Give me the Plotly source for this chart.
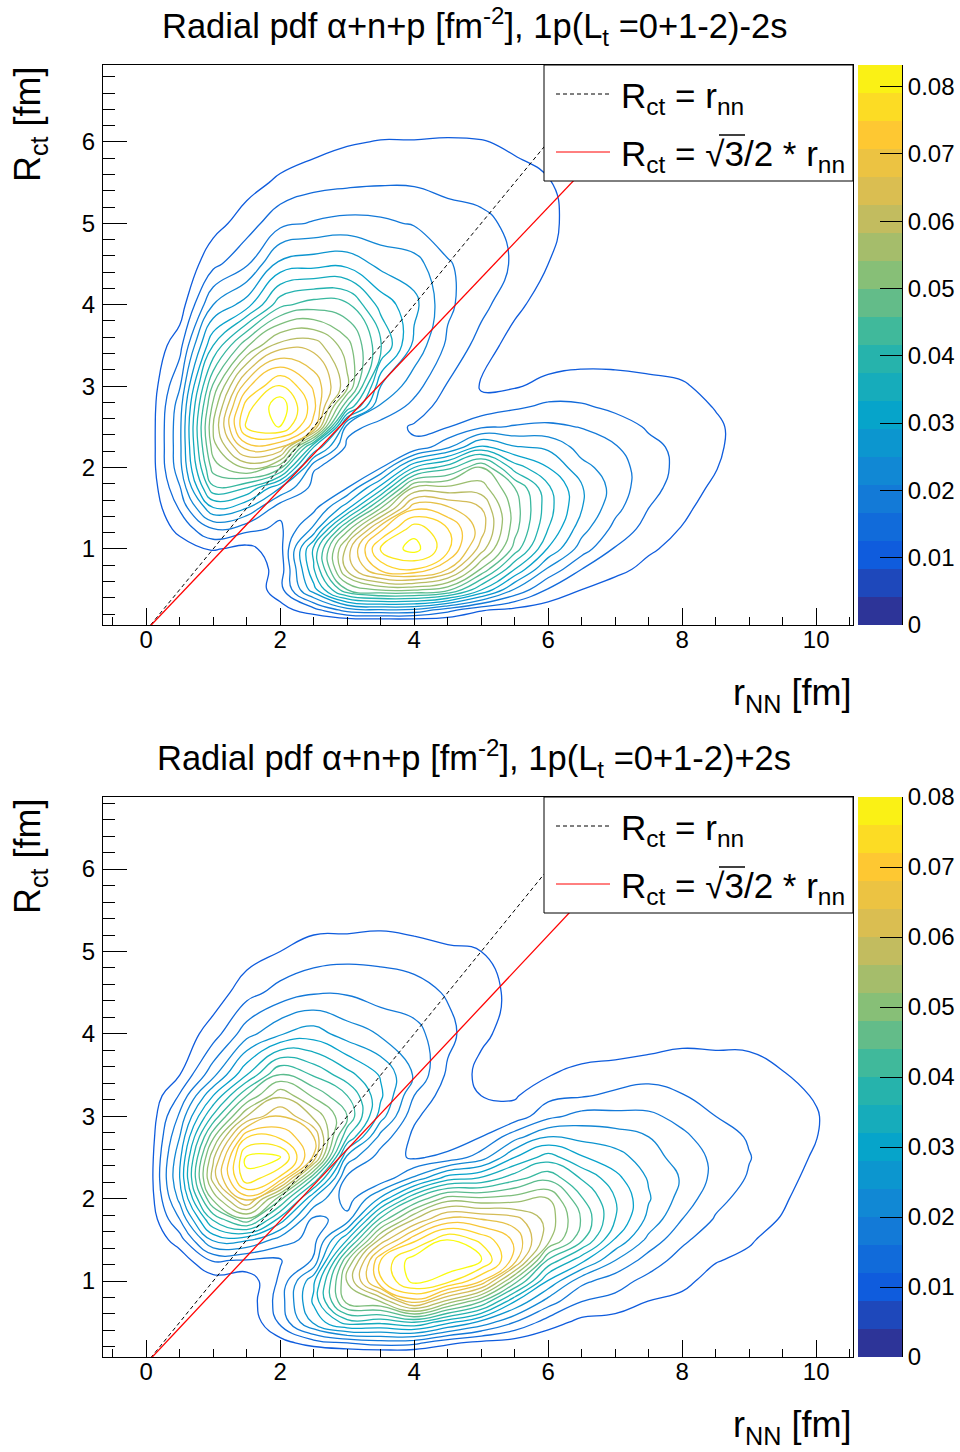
import numpy as np
import plotly.graph_objects as go

# ---- data -----------------------------------------------------------------
# pdf values are written in contour steps (one step = one colour band)
step_top = 0.00416
step_bot = 0.004
x_grid = [0, .5, 1, 1.5, 2, 2.5, 3, 3.5, 4, 4.5, 5, 5.5, 6, 6.5, 7, 7.5, 8, 8.5, 9, 9.5, 10, 10.5]

y_top = [0, .125, .25, .5, .75, 1, 1.25, 1.5, 1.75, 2, 2.25, 2.5, 2.75, 3, 3.5, 4, 4.5, 5, 5.5, 6, 6.5, 7]
rows_top = [
    [],
    [0, 0, 0, 0, .1, .2, .5, .6, .6, .5, .3, .2, .1],
    [0, 0, 0, 0, .6, 1.6, 3.5, 3.9, 3.8, 2.4, 1.1, .7, .4, .1],
    [0, 0, .05, .1, 1.6, 5.6, 10, 11.2, 11.2, 10.4, 7.1, 3.9, 1.9, 1, .5, .15, .05],
    [0, 0, .2, .25, 1.4, 6.9, 13.3, 16.3, 17, 15, 10.9, 7, 3.8, 2, 1.3, .7, .3, .1],
    [0, .5, 1.1, .7, 1.6, 7.2, 13.5, 18.2, 19.4, 17.3, 13.5, 9.6, 5.9, 3.5, 1.9, 1.15, .65, .2, .05],
    [0, 1.3, 3, 2.3, 1.8, 4.2, 10.5, 15.7, 18.6, 17, 14.5, 10.4, 7, 4.4, 2.7, 1.6, .95, .35, .1],
    [0, 2.1, 5.9, 5, 2.3, 2.7, 5.7, 11, 15.8, 15.2, 14, 10.5, 7.4, 5.05, 3.3, 2, 1.25, .5, .2],
    [0, 2.9, 8.8, 8, 5, 2.6, 3, 6.4, 12.2, 12.3, 12.5, 10, 7.2, 5.1, 3.6, 2.3, 1.6, .75, .3],
    [0, 3.6, 10.5, 12.2, 10.3, 3.1, 2.5, 2.9, 7, 8.6, 11, 7.5, 6, 4.3, 3.5, 2.4, 1.75, 1.05, .5, .1],
    [0, 3.7, 11.5, 15.5, 15, 7, 2.7, 2.2, 2.2, 3.8, 6.3, 5.1, 4.8, 3.6, 3.1, 2.2, 1.8, 1.15, .55, .1],
    [0, 3.7, 12, 18.2, 19.1, 15.5, 3.4, 2.6, 1.85, 1.95, 2.8, 3.1, 3.2, 2.95, 2.4, 1.9, 1.65, 1.15, .6, .15],
    [0, 3.5, 11.3, 17.6, 19.7, 16.4, 9, 3.8, 2.7, 1.4, 1.3, 1.8, 2.2, 2.1, 1.8, 1.6, 1.35, .95, .45, .1],
    [0, 2.9, 10.2, 15.7, 18.2, 15.8, 12.3, 5, 3.4, 1.9, .9, .9, 1.3, 1.5, 1.4, 1.25, 1.1, .7, .3, .05],
    [0, 1.6, 7, 10.8, 13.5, 13.6, 11.4, 8.2, 4.7, 2.8, 1.6, .5, .25, .3, .4, .4, .4, .2, .05],
    [0, .4, 4, 5.5, 8.7, 9.5, 9.2, 6.6, 5.3, 3.2, 2.3, 1.3, .4, .1, .05],
    [0, .05, 1.7, 2.85, 5.3, 5.6, 5.7, 4.7, 4.4, 3.1, 2.45, 1.9, 1, .2],
    [0, 0, .6, 1.5, 2.7, 3.1, 3.3, 3.2, 2.9, 2.4, 2.25, 1.75, 1.25, .5],
    [0, 0, .1, .6, 1.2, 1.65, 1.8, 1.9, 1.9, 1.75, 1.6, 1.3, 1.1, .2],
    [0, 0, 0, .05, .3, .55, .9, 1.05, 1.05, 1.1, 1.05, .85, .4, .05],
    [0, 0, 0, 0, 0, 0, .1, .1, .1, .15, .15, .1, .05],
    [],
]

y_bot = [0, .125, .25, .5, .75, 1, 1.25, 1.5, 1.75, 2, 2.25, 2.5, 2.75, 3, 3.25, 3.5, 4, 4.5, 5, 5.5, 6, 6.5, 7]
# one list per x_grid column
cols_bot = [
    [],
    [0, 0, 0, 0, 0, .1, .4, 1.5, 3, 4.3, 5, 4.7, 4, 3.2, 2.1, 1, .3],
    [0, 0, 0, 0, 0, .5, 2.1, 5.2, 8.2, 11.3, 13.5, 12.8, 10.8, 8.2, 6, 3.7, 1.5, .4],
    [0, 0, 0, .05, .3, .3, 1.9, 5.2, 10.8, 15.5, 18.8, 19.2, 16.9, 13, 10, 7, 3.6, 1.6, .5, .02],
    [0, .1, .6, 2.2, 2.5, 2.2, 1.9, 3.5, 6.6, 10.3, 16.8, 19.2, 16.8, 15, 12.8, 10.2, 4.9, 2.4, 1, .2],
    [0, .1, 1.5, 5.2, 6.2, 5.8, 3.1, 2.6, 2.7, 4.9, 9, 14.8, 15, 12.8, 10.8, 8.9, 5.5, 2.9, 1.4, .4],
    [0, .3, 2, 7.5, 11.4, 12.1, 10.9, 7, 3.4, 2.4, 2.7, 4.6, 8.1, 10, 9, 7.4, 4.5, 2.9, 1.6, .2],
    [0, .3, 2.5, 7.3, 12, 16.8, 17, 13.3, 9.3, 5.2, 2.2, 2.5, 3.6, 5.5, 6.2, 5.9, 3.9, 2.5, 1.7, .3],
    [0, .3, 2.3, 8, 15.5, 19.4, 19.7, 16.7, 13, 9, 4.2, 1.85, 1.75, 2.2, 3, 3.9, 3.35, 2.4, 1.5, .15],
    [0, .2, 1.2, 6.3, 12.5, 18.4, 19.9, 19, 15.3, 11.5, 6.5, 2.3, 1.3, 1.1, 1.4, 1.8, 2.3, 1.9, 1.2, 0],
    [0, .1, .7, 4.7, 10, 16, 19.2, 17.7, 15, 11.2, 7.1, 3.5, 2, 1.5, 1, .7, 1.2, 1.3, 1, .1],
    [0, 0, .5, 3, 6, 10.5, 15.5, 15.8, 14.4, 11.5, 8.6, 6, 3.6, 1.4, .9, .7, .6, .8, .5, .05],
    [0, 0, .15, 1.5, 3.5, 5.9, 8.8, 12.3, 12.6, 12, 9.7, 7.5, 5, 2.7, 1.7, .95, .2, .05],
    [0, 0, 0, .7, 2, 3.3, 6.3, 9.2, 9.9, 9.1, 7.9, 6.1, 4.7, 3.4, 1.9, 1.3, .2],
    [0, 0, 0, .5, 1.7, 2.4, 4, 5.9, 7, 7, 6.3, 5.4, 4.5, 3.3, 2.2, 1.5, .15],
    [0, 0, 0, .2, .97, 1.7, 2.5, 3.7, 4.7, 5.1, 4.9, 4.5, 4, 3.2, 2.4, 1.7, .3],
    [0, 0, 0, 0, .8, 1.2, 1.6, 2.2, 3, 3.6, 3.9, 3.5, 3.2, 2.7, 2.05, 1.55, .7, .05],
    [0, 0, 0, 0, .3, .7, 1.05, 1.4, 1.9, 2.3, 2.7, 2.8, 2.5, 2, 1.6, 1.3, .8, .1],
    [0, 0, 0, 0, .05, .3, .8, 1.1, 1.3, 1.6, 1.9, 2.05, 1.9, 1.6, 1.4, 1.2, .85, .1],
    [0, 0, 0, 0, 0, .1, .35, .6, .95, 1.1, 1.25, 1.35, 1.35, 1.3, 1.2, 1.05, .6, .1],
    [0, 0, 0, 0, 0, 0, .05, .2, .4, .6, .75, .9, 1.02, 1.05, .95, .75, .4, .05],
    [0, 0, 0, 0, 0, 0, 0, 0, .15, .3, .4, .5, .6, .55, .45, .3, .1],
]

ref_x = [0, 7.9]
ratio_black = 1.0
ratio_red = 0.866

title_top = "Radial pdf α+n+p [fm<sup>-2</sup>], 1p(L<sub>t</sub> =0+1-2)-2s"
title_bot = "Radial pdf α+n+p [fm<sup>-2</sup>], 1p(L<sub>t</sub> =0+1-2)+2s"
cbar_ticks = [0, .01, .02, .03, .04, .05, .06, .07, .08]
cbar_labels = ["0", "0.01", "0.02", "0.03", "0.04", "0.05", "0.06", "0.07", "0.08"]

# ---- helpers ----------------------------------------------------------------
W, H = 960, 1452
FONT = "Liberation Sans"
bird = [(0.2082, 0.1664, 0.5293), (0.0592, 0.3599, 0.8684), (0.0780, 0.5041, 0.8385),
        (0.0232, 0.6419, 0.7914), (0.1802, 0.7178, 0.6425), (0.5301, 0.7492, 0.4662),
        (0.8186, 0.7328, 0.3499), (0.9956, 0.7862, 0.1968), (0.9764, 0.9832, 0.0539)]


def rgb(col):
    return "rgb(%d,%d,%d)" % tuple(int(round(c * 255)) for c in col)


scale = [[i / 8, rgb(col)] for i, col in enumerate(bird)]
# the contour lines begin at the second palette colour, as the outermost blue line does
line_scale = [[i / 7, rgb(col)] for i, col in enumerate(bird[1:])]


def pad(rows, n):
    return np.array([list(r) + [0] * (n - len(r)) for r in rows], dtype=float)


z_top = pad(rows_top, len(x_grid)) * step_top
z_bot = pad(cols_bot, len(y_bot)).T * step_bot

fig = go.Figure()
layout = dict(width=W, height=H, margin=dict(l=0, r=0, t=0, b=0, autoexpand=False), paper_bgcolor="white",
              plot_bgcolor="white", showlegend=False, font=dict(family=FONT, color="black"))


def px(x):
    return x / W


def py(y):
    return 1 - y / H


shapes, notes = [], []
panels = [
    dict(top=65, bot=625, z=z_top, y=y_top, step=step_top, title=title_top, title_x=160, title_y=27,
         yr=[0.065, 6.945]),
    dict(top=797, bot=1357, z=z_bot, y=y_bot, step=step_bot, title=title_bot, title_x=155, title_y=758,
         yr=[0.078, 6.875]),
]
for i, p in enumerate(panels):
    xa = "x" + ("" if i == 0 else "3")
    ya = "y" + ("" if i == 0 else "3")
    xc = "x" + ("2" if i == 0 else "4")
    yc = "y" + ("2" if i == 0 else "4")
    step = p["step"]
    fig.add_trace(go.Contour(x=x_grid, y=p["y"], z=p["z"], xaxis=xa, yaxis=ya,
                             colorscale=line_scale, showscale=False, autocontour=False, hoverinfo="skip",
                             contours=dict(coloring="lines", start=step, end=19.5 * step, size=step),
                             line=dict(width=1.3, smoothing=1.3)))
    for ratio, color, dash, lw in ((ratio_black, "black", "4px,3px", 1), (ratio_red, "red", "solid", 1.3)):
        fig.add_trace(go.Scatter(x=ref_x, y=[v * ratio for v in ref_x], mode="lines", xaxis=xa, yaxis=ya,
                                 line=dict(color=color, width=lw, dash=dash), hoverinfo="skip"))
    edges = [k * step for k in range(21)]
    fig.add_trace(go.Heatmap(x=[0, 1], y=edges, z=[[(k + .5) * step] for k in range(20)], xaxis=xc, yaxis=yc,
                             zmin=0, zmax=20 * step, colorscale=scale, showscale=False, hoverinfo="skip"))
    dom = [py(p["bot"]), py(p["top"])]
    frame = dict(showline=True, linecolor="black", linewidth=1, mirror=True, showgrid=False, zeroline=False,
                 ticks="inside", tickcolor="black", tickfont=dict(size=24, family=FONT, color="black"))
    layout["xaxis" + xa[1:]] = dict(frame, domain=[px(103), px(853)], range=[-0.645, 10.55], anchor=ya,
                                    tickvals=[0, 2, 4, 6, 8, 10], ticklen=17, tickwidth=1, ticklabelstandoff=-7,
                                    minor=dict(dtick=.5, ticks="inside", ticklen=8, tickcolor="black", tickwidth=1,
                                               showgrid=False))
    layout["yaxis" + ya[1:]] = dict(frame, domain=dom, range=p["yr"], anchor=xa,
                                    tickvals=[1, 2, 3, 4, 5, 6], ticklen=24, tickwidth=1, ticklabelstandoff=2,
                                    minor=dict(dtick=.2, ticks="inside", ticklen=12, tickcolor="black", tickwidth=1,
                                               showgrid=False))
    layout["xaxis" + xc[1:]] = dict(domain=[px(858), px(902)], range=[0, 1], anchor=yc, visible=False)
    layout["yaxis" + yc[1:]] = dict(domain=dom, range=[0, 20 * step], anchor=xc, side="right", showline=True,
                                    linecolor="black", linewidth=1, showgrid=False, zeroline=False,
                                    ticks="inside", ticklen=22, tickcolor="black", tickwidth=1,
                                    tickvals=cbar_ticks, ticktext=cbar_labels,
                                    tickfont=dict(size=24, family=FONT, color="black"))

    def note(text, x, y, size=35, xanchor="left", yanchor="middle", angle=0):
        notes.append(dict(text=text, x=px(x), y=py(y), xref="paper", yref="paper", showarrow=False,
                          xanchor=xanchor, yanchor=yanchor, textangle=angle,
                          font=dict(size=size, family=FONT, color="black")))

    t = p["top"]
    note(p["title"], p["title_x"], p["title_y"], size=34.5)
    note("r<sub>NN</sub> [fm]", 853, p["bot"] + 70, size=36, xanchor="right")
    note("R<sub>ct</sub> [fm]", 30, t + 59, size=36, xanchor="center", angle=-90)
    shapes.append(dict(type="rect", xref="paper", yref="paper", x0=px(544), x1=px(853), y0=py(t + 116), y1=py(t),
                       fillcolor="white", line=dict(color="black", width=1), layer="above"))
    shapes.append(dict(type="line", xref="paper", yref="paper", x0=px(556), x1=px(610), y0=py(t + 29), y1=py(t + 29),
                       line=dict(color="black", width=1, dash="4px,3px"), layer="above"))
    shapes.append(dict(type="line", xref="paper", yref="paper", x0=px(556), x1=px(610), y0=py(t + 87), y1=py(t + 87),
                       line=dict(color="red", width=1), layer="above"))
    shapes.append(dict(type="line", xref="paper", yref="paper", x0=px(719), x1=px(745), y0=py(t + 70), y1=py(t + 70),
                       line=dict(color="black", width=1.5), layer="above"))
    note("R<sub>ct</sub> = r<sub>nn</sub>", 619, t + 33)
    note("R<sub>ct</sub> = √3/2 * r<sub>nn</sub>", 619, t + 91)

layout["shapes"] = shapes
layout["annotations"] = notes
fig.update_layout(**layout)
fig.write_html("out.html", config={"displayModeBar": False}, post_script="document.body.style.margin='0';")
